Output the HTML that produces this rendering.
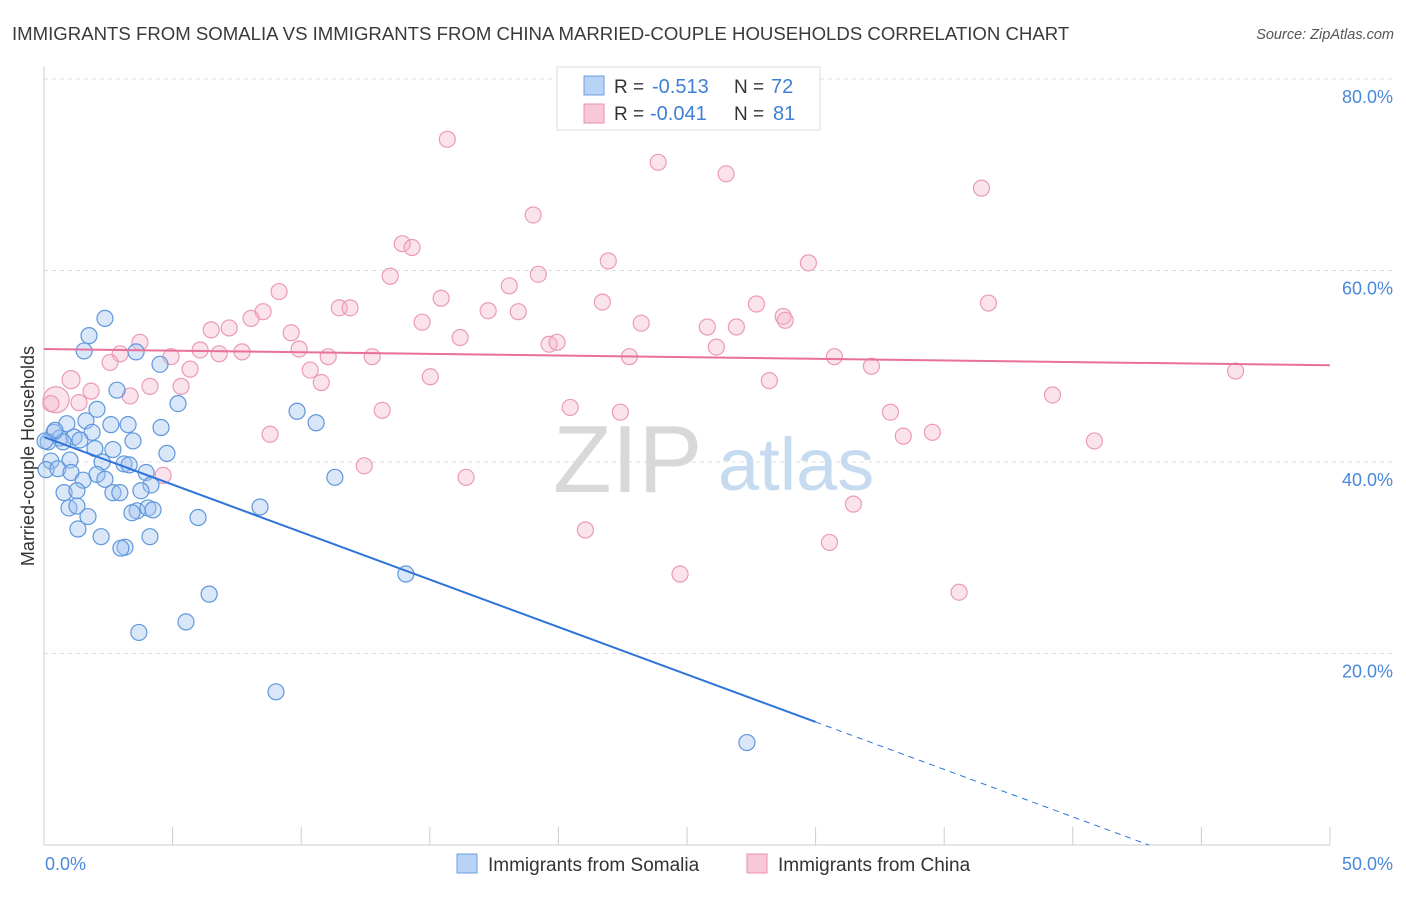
<!DOCTYPE html>
<html><head><meta charset="utf-8"><style>
body{margin:0;background:#fff;font-family:"Liberation Sans",sans-serif}
svg text{font-family:"Liberation Sans",sans-serif}
</style></head><body>
<svg id="chart" width="1406" height="892" viewBox="0 0 1406 892">
<text x="12" y="40" font-size="18.6" fill="#3a3a3a">IMMIGRANTS FROM SOMALIA VS IMMIGRANTS FROM CHINA MARRIED-COUPLE HOUSEHOLDS CORRELATION CHART</text>
<text x="1394" y="39" font-size="14.5" fill="#555" font-style="italic" text-anchor="end">Source: ZipAtlas.com</text>
<g id="grid"></g>
<g id="axes"></g>
<text x="553" y="492" font-size="96" fill="#d8d8d8" font-family="Liberation Serif">ZIP</text>
<text x="718" y="490" font-size="74" fill="#c6daf0">atlas</text>
<g id="points"></g>
<g id="lines"></g>
<text transform="translate(34,456) rotate(-90)" font-size="18" fill="#333" text-anchor="middle">Married-couple Households</text>
<g>
<rect x="557" y="67" width="263" height="63" fill="#fff" stroke="#ddd"/>
<rect x="584" y="76" width="20" height="19" fill="#b7d3f5" stroke="#6a9fe0"/>
<rect x="584" y="104" width="20" height="19" fill="#f8c8d8" stroke="#e890b0"/>
<text x="614" y="93" font-size="19" fill="#333">R =</text>
<text x="652" y="93" font-size="20" fill="#3f7fd8">-0.513</text>
<text x="734" y="93" font-size="19" fill="#333">N =</text>
<text x="771" y="93" font-size="20" fill="#3f7fd8">72</text>
<text x="614" y="120" font-size="19" fill="#333">R =</text>
<text x="650" y="120" font-size="20" fill="#3f7fd8">-0.041</text>
<text x="734" y="120" font-size="19" fill="#333">N =</text>
<text x="773" y="120" font-size="20" fill="#3f7fd8">81</text>
</g>
<g>
<rect x="457" y="854" width="20" height="19" fill="#b7d3f5" stroke="#6a9fe0"/>
<text x="488" y="871" font-size="19" fill="#333">Immigrants from Somalia</text>
<rect x="747" y="854" width="20" height="19" fill="#f8c8d8" stroke="#e890b0"/>
<text x="778" y="871" font-size="19" fill="#333">Immigrants from China</text>
</g>
</svg>
<script>
const yTicks=[20,40,60,80];
const yTickLabels=["20.0%","40.0%","60.0%","80.0%"];
const xTickLabels=["0.0%","50.0%"];
const somaliaX=[2.37,1.75,1.56,3.58,4.51,2.84,5.21,2.06,1.63,0.89,2.60,3.27,1.87,4.55,0.39,0.62,1.17,0.16,0.74,3.46,1.40,2.68,1.98,4.78,0.27,1.01,2.26,3.11,3.31,0.08,0.54,1.05,2.06,1.52,2.37,3.97,4.16,0.78,1.28,2.68,2.95,3.77,0.97,1.28,3.62,4.04,4.24,3.42,1.71,5.99,1.32,2.22,4.12,3.15,2.99,8.40,9.84,10.58,11.31,14.07,6.42,5.52,3.69,9.02,27.33,0.04,0.43];
const somaliaY=[55.0,53.2,51.6,51.5,50.2,47.5,46.1,45.5,44.3,44.0,43.9,43.9,43.1,43.6,43.1,42.5,42.6,42.1,42.1,42.2,42.3,41.3,41.4,40.9,40.1,40.2,40.0,39.8,39.7,39.2,39.3,38.9,38.7,38.1,38.2,38.9,37.6,36.8,37.0,36.8,36.8,37.0,35.2,35.4,34.9,35.2,35.0,34.7,34.3,34.2,33.0,32.2,32.2,31.1,31.0,35.3,45.3,44.1,38.4,28.3,26.2,23.3,22.2,16.0,10.7,42.2,43.3];
const chinaX=[15.68,23.88,26.52,36.45,19.02,13.93,14.31,13.46,19.22,21.94,9.14,18.09,15.44,29.72,36.72,21.71,27.70,8.52,8.05,11.48,11.90,17.27,18.44,14.70,23.22,25.79,26.92,28.74,28.82,6.50,7.20,9.61,3.73,16.18,19.64,19.95,2.96,4.94,6.07,6.81,7.70,9.92,11.05,12.76,22.76,26.14,30.73,2.57,5.68,10.35,32.17,46.33,1.05,4.12,5.33,10.78,15.02,28.20,1.83,3.35,0.47,1.36,0.27,39.21,20.46,22.41,13.15,32.91,8.79,33.41,34.54,40.84,12.45,4.63,16.41,31.47,21.05,30.54,24.73,35.58];
const chinaY=[73.7,71.3,70.1,68.6,65.8,62.8,62.4,59.4,59.6,61.0,57.8,58.4,57.1,60.8,56.6,56.7,56.5,55.7,55.0,56.1,56.1,55.8,55.7,54.6,54.5,54.1,54.1,55.2,54.8,53.8,54.0,53.5,52.5,53.0,52.3,52.5,51.3,51.0,51.7,51.3,51.5,51.8,51.0,51.0,51.0,52.0,51.0,50.4,49.7,49.6,50.0,49.5,48.6,47.9,47.9,48.3,48.9,48.5,47.4,46.9,46.5,46.2,46.1,47.0,45.7,45.2,45.4,45.2,42.9,42.7,43.1,42.2,39.6,38.6,38.4,35.6,32.9,31.6,28.3,26.4];
const somaliaTrend=[42.6,12.85];
const chinaTrend=[51.8,50.1];
const trendX=[0,30,50];

const NS="http://www.w3.org/2000/svg";
const X0=44,X1=1330,Y0=845,Y80=79;
const xs=v=>X0+(X1-X0)*v/50;
const ys=v=>Y0-(Y0-Y80)*v/80;
function mk(tag,at,parent){const e=document.createElementNS(NS,tag);for(const k in at)e.setAttribute(k,at[k]);parent.appendChild(e);return e;}
const grid=document.getElementById('grid'),axes=document.getElementById('axes');
yTicks.forEach((t,i)=>{
 const l=mk('line',{x1:X0,x2:1394,y1:ys(t),y2:ys(t),stroke:'#ddd','stroke-dasharray':'4,4'},grid);
 
 
 const tx=mk('text',{x:1393,y:ys(t)+24,'font-size':18,fill:'#4a88dc','text-anchor':'end'},axes);
 tx.textContent=yTickLabels[i];
 
 
});
const ax=mk('line',{x1:X0,x2:X1,y1:Y0,y2:Y0,stroke:'#ccc'},axes);


const ay=mk('line',{x1:X0,x2:X0,y1:66,y2:Y0,stroke:'#ccc'},axes);


for(let v=0;v<=50;v+=5){
 const t=mk('line',{x1:xs(v),x2:xs(v),y1:Y0,y2:Y0-18,stroke:'#ccc'},axes);
 
 
}
const xl0=mk('text',{x:45,y:870,'font-size':18,fill:'#4a88dc'},axes);xl0.textContent=xTickLabels[0];


const xl1=mk('text',{x:1393,y:870,'font-size':18,fill:'#4a88dc','text-anchor':'end'},axes);xl1.textContent=xTickLabels[1];


const pts=document.getElementById('points');
chinaX.forEach((v,i)=>{
 let r=8;
 if(v<0.6&&chinaY[i]>46.3&&chinaY[i]<46.7) r=13;
 else if(v<1.2&&chinaY[i]>48&&chinaY[i]<49) r=9;
 const c=mk('circle',{cx:xs(v),cy:ys(chinaY[i]),r:r,fill:'rgba(244,176,200,0.35)',stroke:'#eb9ab8','stroke-width':1.2},pts);
 
 
});
somaliaX.forEach((v,i)=>{
 const c=mk('circle',{cx:xs(v),cy:ys(somaliaY[i]),r:8,fill:'rgba(160,196,240,0.4)',stroke:'#5f97dc','stroke-width':1.2},pts);
 
 
});
const lines=document.getElementById('lines');
const slope=(somaliaTrend[1]-somaliaTrend[0])/(trendX[1]-trendX[0]);
const zeroX=trendX[0]-somaliaTrend[0]/slope;
const l1=mk('line',{x1:xs(trendX[0]),y1:ys(somaliaTrend[0]),x2:xs(trendX[1]),y2:ys(somaliaTrend[1]),stroke:'#2f74d8','stroke-width':2},lines);


const l2=mk('line',{x1:xs(trendX[1]),y1:ys(somaliaTrend[1]),x2:xs(zeroX),y2:ys(0),stroke:'#2f74d8','stroke-width':1,'stroke-dasharray':'6,5'},lines);


const l3=mk('line',{x1:xs(trendX[0]),y1:ys(chinaTrend[0]),x2:xs(trendX[2]),y2:ys(chinaTrend[1]),stroke:'#e8709a','stroke-width':2},lines);


</script>
</body></html>
